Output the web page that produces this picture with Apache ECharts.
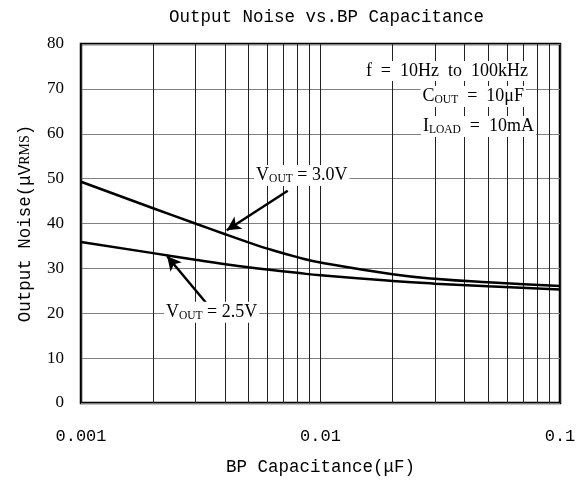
<!DOCTYPE html>
<html><head><meta charset="utf-8">
<script src="https://cdn.jsdelivr.net/npm/echarts@6/dist/echarts.min.js"></script>
<style>html,body{margin:0;padding:0;background:#fff}#c{width:583px;height:481px}</style>
</head><body><div id="c"></div>
<script>
// ---- data ----
const capX = [0.001, 0.002, 0.003, 0.004, 0.005, 0.006, 0.008, 0.01, 0.02, 0.03, 0.05, 0.1];
const noise30 = [49.3, 43.4, 40.0, 37.6, 35.8, 34.4, 32.5, 31.3, 28.7, 27.7, 26.9, 26.1];
const noise25 = [35.9, 33.4, 31.9, 30.9, 30.25, 29.75, 29.0, 28.45, 27.2, 26.6, 26.0, 25.3];
const xMajorTicks = [0.001, 0.01, 0.1];
const xMinorGrid = [0.002, 0.003, 0.004, 0.005, 0.006, 0.007, 0.008, 0.009,
                    0.02, 0.03, 0.04, 0.05, 0.06, 0.07, 0.08, 0.09];
const yTicks = [0, 10, 20, 30, 40, 50, 60, 70, 80];
const arrow30 = [[0.0073, 47.3], [0.00406, 38.5]];
const arrow25 = [[0.00332, 22.4], [0.00229, 32.7]];
const label30 = [0.00835, 50.7];
const label25 = [0.00351, 20.2];

const serif = '"Liberation Serif", "DejaVu Serif", serif';
const mono = '"Liberation Mono", "DejaVu Sans Mono", monospace';
const EN = '\u2002';

const subRich = {
  m: { fontFamily: serif, fontSize: 18, color: '#000', lineHeight: 19, verticalAlign: 'top' },
  s: { fontFamily: serif, fontSize: 11.5, color: '#000', lineHeight: 12, verticalAlign: 'bottom' }
};

const yMin = yTicks[0], yMax = yTicks[yTicks.length - 1];

const chart = echarts.init(document.getElementById('c'), null, { renderer: 'canvas' });
chart.setOption({
  animation: false,
  backgroundColor: '#fff',
  title: {
    text: 'Output Noise vs.BP Capacitance',
    left: 164, top: 3,
    textStyle: { fontFamily: mono, fontSize: 17.5, fontWeight: 'normal', color: '#000' }
  },
  grid: { left: 81, right: 23, top: 44, bottom: 77, show: true, borderColor: '#000', borderWidth: 2.5, backgroundColor: 'transparent' },
  xAxis: {
    type: 'log', logBase: 10, min: 0.001, max: 0.1,
    name: 'BP Capacitance(μF)', nameLocation: 'middle', nameGap: 55,
    nameTextStyle: { fontFamily: mono, fontSize: 17.5, color: '#000' },
    axisLine: { show: false }, axisTick: { show: false },
    axisLabel: {
      margin: 25, fontFamily: mono, fontSize: 17, color: '#000',
      formatter: v => { const n = Number(Number(v).toPrecision(1)); return xMajorTicks.includes(n) ? String(n) : ''; }
    },
    splitLine: { show: true, lineStyle: { color: '#222', width: 1 } }
  },
  yAxis: {
    type: 'value', min: yMin, max: yMax, interval: 10,
    name: 'Output Noise(μV{r|RMS})', nameLocation: 'middle', nameGap: 47, nameRotate: 90,
    nameTextStyle: { fontFamily: mono, fontSize: 17.5, color: '#000',
      rich: { r: { fontFamily: serif, fontSize: 14, color: '#000' } } },
    axisLine: { show: false }, axisTick: { show: false },
    axisLabel: { margin: 17, fontFamily: serif, fontSize: 17, color: '#000' },
    splitLine: { show: true, lineStyle: { color: '#808080', width: 1 } }
  },
  series: [
    {
      type: 'line', data: [], z: 1, silent: true,
      markLine: {
        silent: true, symbol: ['none', 'none'], animation: false,
        label: { show: false },
        lineStyle: { color: '#222', width: 1, type: 'solid' },
        data: xMinorGrid.map(v => [{ coord: [v, yMin] }, { coord: [v, yMax] }])
      }
    },
    {
      name: 'VOUT = 3.0V', type: 'line', z: 5, smooth: 0.5, symbol: 'none',
      lineStyle: { color: '#000', width: 2.5 },
      data: capX.map((x, i) => [x, noise30[i]]),
      markLine: {
        silent: true, symbol: ['none', 'arrow'], symbolSize: [11, 14], animation: false,
        label: { show: false },
        lineStyle: { color: '#000', width: 2.5, type: 'solid' },
        data: [
          [{ coord: arrow30[0] }, { coord: arrow30[1] }],
          [{ coord: arrow25[0] }, { coord: arrow25[1] }]
        ]
      },
      markPoint: {
        silent: true, symbol: 'rect', symbolSize: 1, itemStyle: { color: 'rgba(0,0,0,0)' },
        label: {
          show: true, position: 'inside', backgroundColor: '#fff', padding: [1, 2],
          rich: subRich
        },
        data: [
          { coord: label30, label: { formatter: '{m|V}{s|OUT}{m| = 3.0V}' } },
          { coord: label25, label: { formatter: '{m|V}{s|OUT}{m| = 2.5V}' } }
        ]
      }
    },
    {
      name: 'VOUT = 2.5V', type: 'line', z: 5, smooth: 0.5, symbol: 'none',
      lineStyle: { color: '#000', width: 2.5 },
      data: capX.map((x, i) => [x, noise25[i]])
    }
  ],
  graphic: [
    { type: 'text', right: 53, top: 61, z: 10,
      style: { text: 'f' + EN + '=' + EN + '10Hz' + EN + 'to' + EN + '100kHz', font: '18px "Liberation Serif"', fill: '#000', backgroundColor: '#fff', padding: [1, 2] } },
    { type: 'text', right: 57, top: 86, z: 10,
      style: { text: '{m|C}{s|OUT}{m|' + EN + '=' + EN + '10μF}', rich: subRich, backgroundColor: '#fff', padding: [1, 2] } },
    { type: 'text', right: 47, top: 116, z: 10,
      style: { text: '{m|I}{s|LOAD}{m|' + EN + '=' + EN + '10mA}', rich: subRich, backgroundColor: '#fff', padding: [1, 2] } }
  ]
});
</script>
</body></html>
